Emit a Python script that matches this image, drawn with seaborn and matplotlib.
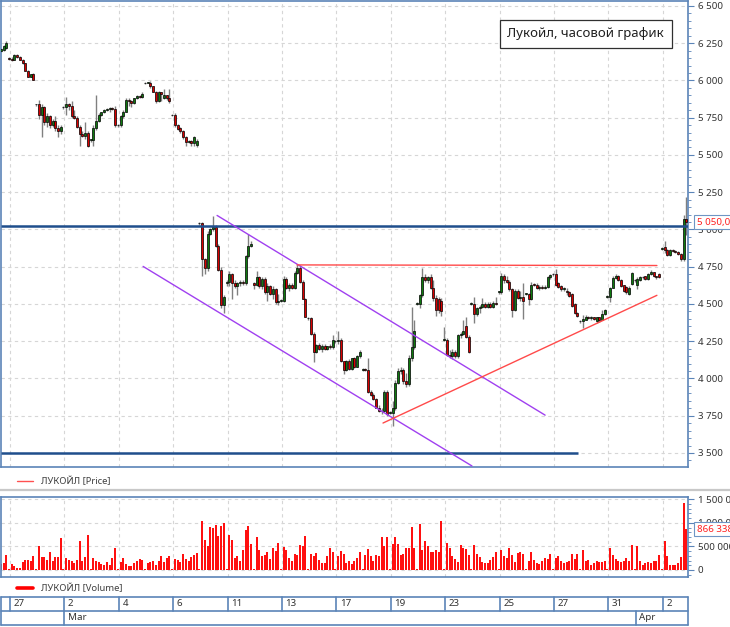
import numpy as np
import pandas as pd
import matplotlib
matplotlib.use("Agg")
import matplotlib.pyplot as plt
import matplotlib.ticker as mticker
import matplotlib.transforms as mtransforms
from matplotlib.patches import Rectangle
from matplotlib.lines import Line2D
import seaborn as sns

# ---------------- DATA (hourly candles, 10 per trading day) ----------------
opens = [
    6190, 6200, 6205, 6215,                                        # Feb 26 (tail)
    6150, 6145, 6140, 6170, 6160, 6140, 6115, 6065, 6025, 6045,    # Feb 27
    5840, 5840, 5770, 5820, 5720, 5760, 5700, 5730, 5680, 5660,    # Feb 28
    5820, 5820, 5840, 5830, 5760, 5750, 5690, 5640, 5630, 5650,    # Mar 2
    5600, 5600, 5680, 5730, 5770, 5785, 5800, 5805, 5812, 5808,    # Mar 3
    5700, 5700, 5760, 5790, 5870, 5860, 5850, 5880, 5895, 5890,    # Mar 4
    5980, 5985, 5985, 5960, 5925, 5860, 5920, 5880, 5900, 5885,    # Mar 5
    5770, 5765, 5700, 5680, 5660, 5620, 5590, 5595, 5580, 5570,    # Mar 6
    5040, 5040, 4800, 4740, 4970, 5000, 5015, 4890, 4730, 4490,    # Mar 10
    4640, 4645, 4700, 4640, 4620, 4640, 4650, 4640, 4820, 4890,    # Mar 11
    4640, 4630, 4680, 4620, 4670, 4580, 4620, 4570, 4600, 4510,    # Mar 12
    4520, 4520, 4670, 4610, 4630, 4610, 4710, 4740, 4650, 4535,    # Mar 13
    4405, 4405, 4300, 4180, 4225, 4200, 4220, 4200, 4215, 4210,    # Mar 16
    4250, 4250, 4260, 4115, 4060, 4120, 4065, 4135, 4080, 4150,    # Mar 17
    4060, 4065, 4058, 3910, 3890, 3860, 3805, 3780, 3780, 3910,    # Mar 18
    3770, 3770, 3800, 3970, 4050, 4060, 3980, 3960, 4140, 4210,    # Mar 19
    4500, 4500, 4560, 4680, 4660, 4680, 4610, 4540, 4530, 4520,    # Mar 20
    4260, 4260, 4160, 4150, 4180, 4150, 4290, 4300, 4350, 4280,    # Mar 23
    4500, 4500, 4430, 4470, 4480, 4500, 4480, 4500, 4480, 4505,    # Mar 24
    4580, 4580, 4690, 4660, 4650, 4600, 4460, 4590, 4540, 4550,    # Mar 25
    4570, 4570, 4530, 4630, 4630, 4605, 4615, 4610, 4615, 4680,    # Mar 26
    4700, 4700, 4640, 4620, 4600, 4590, 4580, 4570, 4500, 4440,    # Mar 27
    4385, 4385, 4395, 4410, 4405, 4410, 4385, 4410, 4395, 4430,    # Mar 30
    4550, 4550, 4610, 4675, 4690, 4660, 4625, 4615, 4570, 4635,    # Mar 31
    4660, 4625, 4660, 4680, 4685, 4665, 4700, 4712, 4685, 4700,    # Apr 1
    4870, 4880, 4860, 4830, 4860, 4855, 4850, 4835, 4800, 5070,    # Apr 2
]
highs = [
    6210, 6215, 6240, 6265,
    6155, 6160, 6180, 6175, 6165, 6145, 6120, 6070, 6045, 6050,
    5845, 5870, 5840, 5830, 5780, 5770, 5740, 5760, 5700, 5700,
    5830, 5890, 5850, 5860, 5800, 5760, 5700, 5660, 5720, 5660,
    5610, 5700, 5900, 5780, 5790, 5810, 5815, 5820, 5825, 5830,
    5710, 5770, 5800, 5880, 5880, 5870, 5885, 5900, 5900, 5922,
    5990, 5990, 5995, 5965, 5930, 5930, 5925, 5945, 5905, 5945,
    5775, 5780, 5710, 5690, 5670, 5625, 5600, 5600, 5625, 5610,
    5050, 5050, 4810, 4990, 5010, 5090, 5030, 4900, 4745, 4560,
    4660, 4720, 4710, 4660, 4650, 4660, 4660, 4830, 4970, 4920,
    4650, 4720, 4690, 4680, 4680, 4640, 4630, 4620, 4610, 4570,
    4530, 4690, 4680, 4640, 4640, 4720, 4770, 4760, 4660, 4540,
    4410, 4410, 4310, 4230, 4240, 4230, 4230, 4220, 4230, 4290,
    4260, 4320, 4270, 4120, 4125, 4130, 4140, 4145, 4160, 4190,
    4070, 4070, 4135, 3920, 3900, 3870, 3820, 3800, 3920, 3925,
    3780, 3850, 3990, 4070, 4080, 4070, 4040, 4160, 4480, 4390,
    4510, 4570, 4740, 4700, 4690, 4700, 4660, 4560, 4550, 4540,
    4345, 4270, 4190, 4200, 4190, 4300, 4310, 4390, 4410, 4290,
    4510, 4550, 4480, 4490, 4540, 4510, 4510, 4510, 4520, 4550,
    4590, 4710, 4700, 4690, 4660, 4610, 4600, 4600, 4590, 4640,
    4575, 4575, 4650, 4640, 4640, 4625, 4630, 4630, 4685, 4700,
    4710, 4735, 4650, 4630, 4615, 4610, 4585, 4575, 4505, 4445,
    4395, 4425, 4425, 4420, 4420, 4412, 4415, 4412, 4460, 4465,
    4560, 4615, 4690, 4700, 4695, 4665, 4630, 4620, 4620, 4715,
    4670, 4680, 4690, 4690, 4690, 4705, 4725, 4715, 4690, 4705,
    4880, 4920, 4870, 4870, 4870, 4865, 4855, 4840, 5100, 5220,
]
lows = [
    6180, 6190, 6200, 6210,
    6140, 6130, 6135, 6150, 6135, 6110, 6060, 6020, 6020, 6000,
    5830, 5740, 5620, 5700, 5690, 5680, 5690, 5660, 5620, 5640,
    5810, 5770, 5800, 5750, 5740, 5680, 5560, 5620, 5610, 5550,
    5590, 5560, 5670, 5720, 5760, 5780, 5795, 5790, 5800, 5690,
    5690, 5690, 5750, 5785, 5830, 5820, 5840, 5875, 5880, 5885,
    5975, 5980, 5950, 5920, 5850, 5855, 5860, 5875, 5870, 5850,
    5760, 5690, 5670, 5650, 5610, 5560, 5580, 5560, 5560, 5555,
    5030, 4690, 4700, 4720, 4960, 4990, 4880, 4720, 4470, 4440,
    4620, 4620, 4530, 4610, 4560, 4620, 4630, 4630, 4810, 4880,
    4600, 4620, 4610, 4600, 4570, 4520, 4560, 4530, 4500, 4490,
    4510, 4510, 4600, 4590, 4600, 4600, 4700, 4640, 4530, 4410,
    4395, 4295, 4110, 4170, 4190, 4180, 4190, 4190, 4200, 4200,
    4240, 4230, 4110, 4030, 4050, 4060, 4060, 4070, 4075, 4140,
    4050, 4050, 3900, 3880, 3855, 3800, 3775, 3765, 3775, 3750,
    3760, 3680, 3790, 3960, 4030, 3960, 3940, 3950, 4120, 4200,
    4490, 4470, 4550, 4650, 4640, 4600, 4520, 4420, 4440, 4420,
    4250, 4150, 4140, 4130, 4140, 4140, 4270, 4290, 4270, 4170,
    4490, 4370, 4420, 4440, 4470, 4470, 4470, 4470, 4470, 4490,
    4570, 4570, 4640, 4640, 4590, 4410, 4450, 4530, 4520, 4400,
    4560, 4490, 4525, 4620, 4600, 4595, 4600, 4600, 4605, 4670,
    4690, 4620, 4610, 4590, 4590, 4560, 4550, 4480, 4430, 4415,
    4375, 4340, 4390, 4400, 4395, 4395, 4375, 4380, 4390, 4425,
    4540, 4515, 4605, 4665, 4655, 4615, 4580, 4565, 4560, 4630,
    4650, 4600, 4655, 4670, 4660, 4660, 4695, 4680, 4670, 4675,
    4860, 4840, 4820, 4825, 4850, 4845, 4830, 4790, 4790, 4960,
]
closes = [
    6200, 6210, 6230, 6250,
    6145, 6140, 6170, 6155, 6140, 6115, 6065, 6025, 6040, 6005,
    5840, 5770, 5820, 5720, 5760, 5700, 5730, 5680, 5660, 5690,
    5820, 5840, 5830, 5760, 5750, 5690, 5640, 5630, 5650, 5560,
    5600, 5680, 5730, 5770, 5785, 5800, 5805, 5812, 5808, 5700,
    5700, 5760, 5790, 5870, 5860, 5850, 5880, 5895, 5890, 5908,
    5985, 5985, 5960, 5925, 5860, 5920, 5910, 5900, 5880, 5860,
    5765, 5700, 5675, 5660, 5620, 5590, 5590, 5580, 5620, 5595,
    5040, 4800, 4740, 4970, 5000, 5015, 4890, 4730, 4490, 4545,
    4645, 4700, 4640, 4620, 4640, 4650, 4640, 4820, 4890, 4900,
    4630, 4680, 4620, 4670, 4580, 4620, 4570, 4600, 4510, 4520,
    4520, 4670, 4610, 4630, 4610, 4710, 4740, 4650, 4535, 4415,
    4405, 4300, 4180, 4225, 4200, 4220, 4200, 4215, 4210, 4260,
    4250, 4260, 4115, 4060, 4120, 4065, 4135, 4080, 4150, 4175,
    4065, 4058, 3910, 3890, 3860, 3805, 3780, 3780, 3910, 3760,
    3770, 3800, 3970, 4050, 4060, 3980, 3960, 4140, 4210, 4320,
    4500, 4560, 4680, 4660, 4680, 4610, 4540, 4460, 4460, 4450,
    4260, 4160, 4150, 4180, 4150, 4290, 4300, 4320, 4280, 4180,
    4500, 4430, 4470, 4480, 4500, 4480, 4500, 4480, 4505, 4500,
    4580, 4690, 4660, 4650, 4600, 4460, 4590, 4540, 4550, 4520,
    4570, 4530, 4630, 4628, 4605, 4615, 4610, 4615, 4680, 4695,
    4700, 4625, 4615, 4600, 4605, 4580, 4555, 4485, 4440, 4420,
    4385, 4400, 4415, 4405, 4410, 4400, 4410, 4390, 4430, 4460,
    4550, 4610, 4675, 4690, 4660, 4620, 4585, 4580, 4610, 4710,
    4660, 4670, 4680, 4682, 4665, 4700, 4712, 4685, 4682, 4680,
    4870, 4860, 4830, 4860, 4855, 4850, 4835, 4800, 5070, 5050,
]
volume_k = [  # thousands of shares
    130, 120, 150, 320,
    10, 130, 80, 50, 50, 160, 210, 210, 180, 290,
    10, 515, 283, 283, 210, 390, 190, 283, 283, 680,
    10, 250, 220, 190, 150, 220, 610, 200, 280, 740,
    10, 250, 190, 160, 120, 100, 160, 100, 250, 460,
    10, 170, 250, 120, 80, 90, 150, 190, 230, 210,
    10, 140, 160, 190, 100, 190, 300, 160, 250, 300,
    10, 230, 210, 170, 330, 230, 186, 270, 307, 357,
    10, 1030, 640, 510, 910, 890, 960, 720, 940, 990,
    10, 740, 640, 260, 290, 190, 420, 850, 940, 560,
    10, 690, 420, 290, 310, 380, 240, 460, 410, 580,
    10, 490, 420, 260, 190, 340, 310, 530, 510, 720,
    10, 330, 290, 360, 220, 150, 150, 290, 460, 390,
    10, 290, 400, 330, 140, 200, 130, 190, 260, 390,
    10, 310, 440, 290, 190, 310, 290, 700, 510, 690,
    10, 560, 700, 560, 310, 340, 470, 470, 920, 460,
    10, 970, 420, 610, 510, 370, 390, 420, 390, 1030,
    10, 580, 460, 290, 240, 160, 530, 460, 440, 310,
    10, 530, 330, 270, 170, 140, 140, 220, 270, 370,
    10, 420, 290, 260, 460, 310, 160, 360, 370, 340,
    10, 190, 370, 220, 140, 130, 200, 260, 240, 340,
    10, 260, 290, 200, 140, 160, 190, 340, 230, 330,
    10, 420, 200, 220, 110, 150, 180, 160, 160, 200,
    10, 470, 310, 240, 190, 160, 190, 260, 190, 530,
    10, 510, 200, 110, 140, 160, 140, 200, 200, 310,
    10, 610, 290, 110, 110, 110, 140, 270, 1430, 866.338,
]
# date axis: trading-day index (0 = Feb 27) of labelled ticks
tick_days = [0, 2, 4, 6, 8, 10, 12, 14, 16, 18, 20, 22, 24]
tick_labels = ["27", "2", "4", "6", "11", "13", "17", "19", "23", "25", "27", "31", "2"]
month_days = [2, 23]
month_labels = ["Mar", "Apr"]
# drawn analysis lines (candle index, price)
channel_upper = [(76.5, 5094), (197.1, 3754)]
channel_lower = [(49.3, 4752), (170.2, 3413)]
resistance = [(105.9, 4762), (238.2, 4758)]
support = [(137.5, 3701), (238.2, 4558)]
level_high = 5025
level_low = 3500
level_low_end = 209.2
last_price = 5050.0
last_volume = 866338

n = len(opens)
assert n == len(highs) == len(lows) == len(closes) == len(volume_k)
cidx = np.arange(-4, n - 4)
o = np.array(opens, float); h = np.array(highs, float)
l = np.array(lows, float); c = np.array(closes, float)
vol = np.array(volume_k) * 1000

# ---------------- STYLE ----------------
sns.set_theme(style="white")
plt.rcParams["font.family"] = ["Noto Sans", "DejaVu Sans"]
SPINE = "#5B84B8"
GRID = "#D6D6D6"
TXT = "#333333"

W, H = 730, 627
fig = plt.figure(figsize=(7.3, 6.27), dpi=100)
fig.patch.set_facecolor("white")
fx = lambda px: px / W
fy = lambda py: 1 - py / H

ax = fig.add_axes([fx(1), fy(467), 687 / W, 466 / H])
axv = fig.add_axes([fx(1), fy(577), 687 / W, 80 / H])
axd = fig.add_axes([fx(1), fy(624.5), 687 / W, 28 / H])
XL = (-2.94, 249.63)
tick_pos = [10 * d + 0.37 for d in tick_days]
month_pos = [10 * d + 0.37 for d in month_days]

def fmt_space(v, p=None):
    return f"{int(round(v)):,}".replace(",", " ")

for a in (ax, axv):
    a.set_facecolor("white")
    a.set_xlim(*XL)
    a.set_xticks(tick_pos)
    a.tick_params(axis="x", length=0, labelbottom=False)
    a.grid(True, which="major", color=GRID, ls=(0, (3, 3)), lw=0.8)
    a.set_axisbelow(True)
    for s in a.spines.values():
        s.set_color(SPINE)
        s.set_linewidth(1.2)
    a.yaxis.set_ticks_position("right")
    a.yaxis.set_major_formatter(mticker.FuncFormatter(fmt_space))
    a.tick_params(axis="y", which="major", direction="out", length=4, width=0.8,
                  color=SPINE, labelsize=7, labelcolor=TXT, pad=3,
                  right=True, left=False, labelright=True, labelleft=False)
    a.tick_params(axis="y", which="minor", direction="out", length=2, width=0.6,
                  color=SPINE, right=True, left=False)

# ---------------- PRICE PANEL ----------------
ax.set_ylim(3406, 6533)
ax.set_yticks(np.arange(3500, 6501, 250))
ax.yaxis.set_minor_locator(mticker.MultipleLocator(50))

ax.vlines(cidx, l, h, colors="#808080", lw=1.0, zorder=2)
up = c >= o
body_bottom = np.minimum(o, c)
body_h = np.maximum(np.abs(c - o), 4)
ax.bar(cidx[up], body_h[up], bottom=body_bottom[up], width=0.74,
       color="#0F7A0F", edgecolor="black", linewidth=0.5, zorder=3)
ax.bar(cidx[~up], body_h[~up], bottom=body_bottom[~up], width=0.74,
       color="#D90000", edgecolor="black", linewidth=0.5, zorder=3)

ax.hlines(level_high, XL[0], XL[1], color="#1F4E8C", lw=1.8, zorder=4)
ax.hlines(level_low, XL[0], level_low_end, color="#1F4E8C", lw=1.8, zorder=4)
for seg, col in [(channel_upper, "#A040F0"), (channel_lower, "#A040F0"),
                 (resistance, "#FF4A4A"), (support, "#FF4A4A")]:
    ax.plot([seg[0][0], seg[1][0]], [seg[0][1], seg[1][1]], color=col, lw=1.0, zorder=4)

trans = mtransforms.blended_transform_factory(ax.transAxes, ax.transData)
ax.text(1.0125, last_price, fmt_space(last_price).replace(" ", " ") + ",0",
        transform=trans, color="#FF2020", fontsize=7, va="center", ha="left",
        bbox=dict(boxstyle="square,pad=0.22", fc="white", ec="#6F95C4", lw=0.8),
        clip_on=False, zorder=10)

# ---------------- VOLUME PANEL ----------------
df_vol = pd.DataFrame({"idx": cidx, "vol": vol})
sns.barplot(data=df_vol, x="idx", y="vol", native_scale=True, color="#FF1010",
            saturation=1, width=0.74, errorbar=None, linewidth=0, ax=axv)
axv.set_xlim(*XL)
axv.set_xticks(tick_pos)
axv.set_xlabel(""); axv.set_ylabel("")
axv.set_ylim(-150000, 1547000)
axv.set_yticks([0, 500000, 1000000, 1500000])
axv.yaxis.set_minor_locator(mticker.MultipleLocator(100000))
transv = mtransforms.blended_transform_factory(axv.transAxes, axv.transData)
axv.text(1.0125, last_volume, fmt_space(last_volume), transform=transv,
         color="#FF2020", fontsize=7, va="center", ha="left",
         bbox=dict(boxstyle="square,pad=0.22", fc="white", ec="#6F95C4", lw=0.8),
         clip_on=False, zorder=10)

# ---------------- DATE BAND ----------------
axd.set_xlim(*XL)
axd.set_ylim(0, 2)
axd.axis("off")
for yv in (0, 1, 2):
    axd.plot(XL, [yv, yv], color=SPINE, lw=1.2, clip_on=False)
axd.plot([XL[0], XL[0]], [0, 2], color=SPINE, lw=1.2, clip_on=False)
axd.plot([XL[1], XL[1]], [0, 2], color=SPINE, lw=1.2, clip_on=False)
for tp, lab in zip(tick_pos, tick_labels):
    axd.plot([tp, tp], [1, 2], color=SPINE, lw=1.2, clip_on=False)
    axd.text(tp + 1.3, 1.5, lab, ha="left", va="center", fontsize=7, color=TXT)
for mp, lab in zip(month_pos, month_labels):
    axd.plot([mp, mp], [0, 1], color=SPINE, lw=1.2, clip_on=False)
    axd.text(mp + 1.3, 0.5, lab, ha="left", va="center", fontsize=7, color=TXT)

# ---------------- LEGEND STRIPS / TITLE ----------------
fig.add_artist(Line2D([fx(17), fx(33)], [fy(481), fy(481)], color="#FF5050", lw=1.0))
fig.text(fx(41), fy(481), "ЛУКОЙЛ [Price]", fontsize=6.8, color="#404040", va="center")
fig.add_artist(Line2D([0, 1], [fy(490), fy(490)], color="#C8C8C8", lw=1.6))
fig.add_artist(Line2D([fx(17), fx(33)], [fy(588), fy(588)], color="#FF0000", lw=2.6))
fig.text(fx(41), fy(588), "ЛУКОЙЛ [Volume]", fontsize=6.8, color="#404040", va="center")

fig.add_artist(Rectangle((fx(500), fy(48)), 172 / W, 28 / H, transform=fig.transFigure,
                         facecolor="white", edgecolor="#303030", lw=0.9, zorder=5))
fig.text(fx(507), fy(34), "Лукойл, часовой график", fontsize=9.5, color="#202020",
         va="center", ha="left", zorder=6)

fig.savefig("out.png", dpi=100, facecolor="white")
